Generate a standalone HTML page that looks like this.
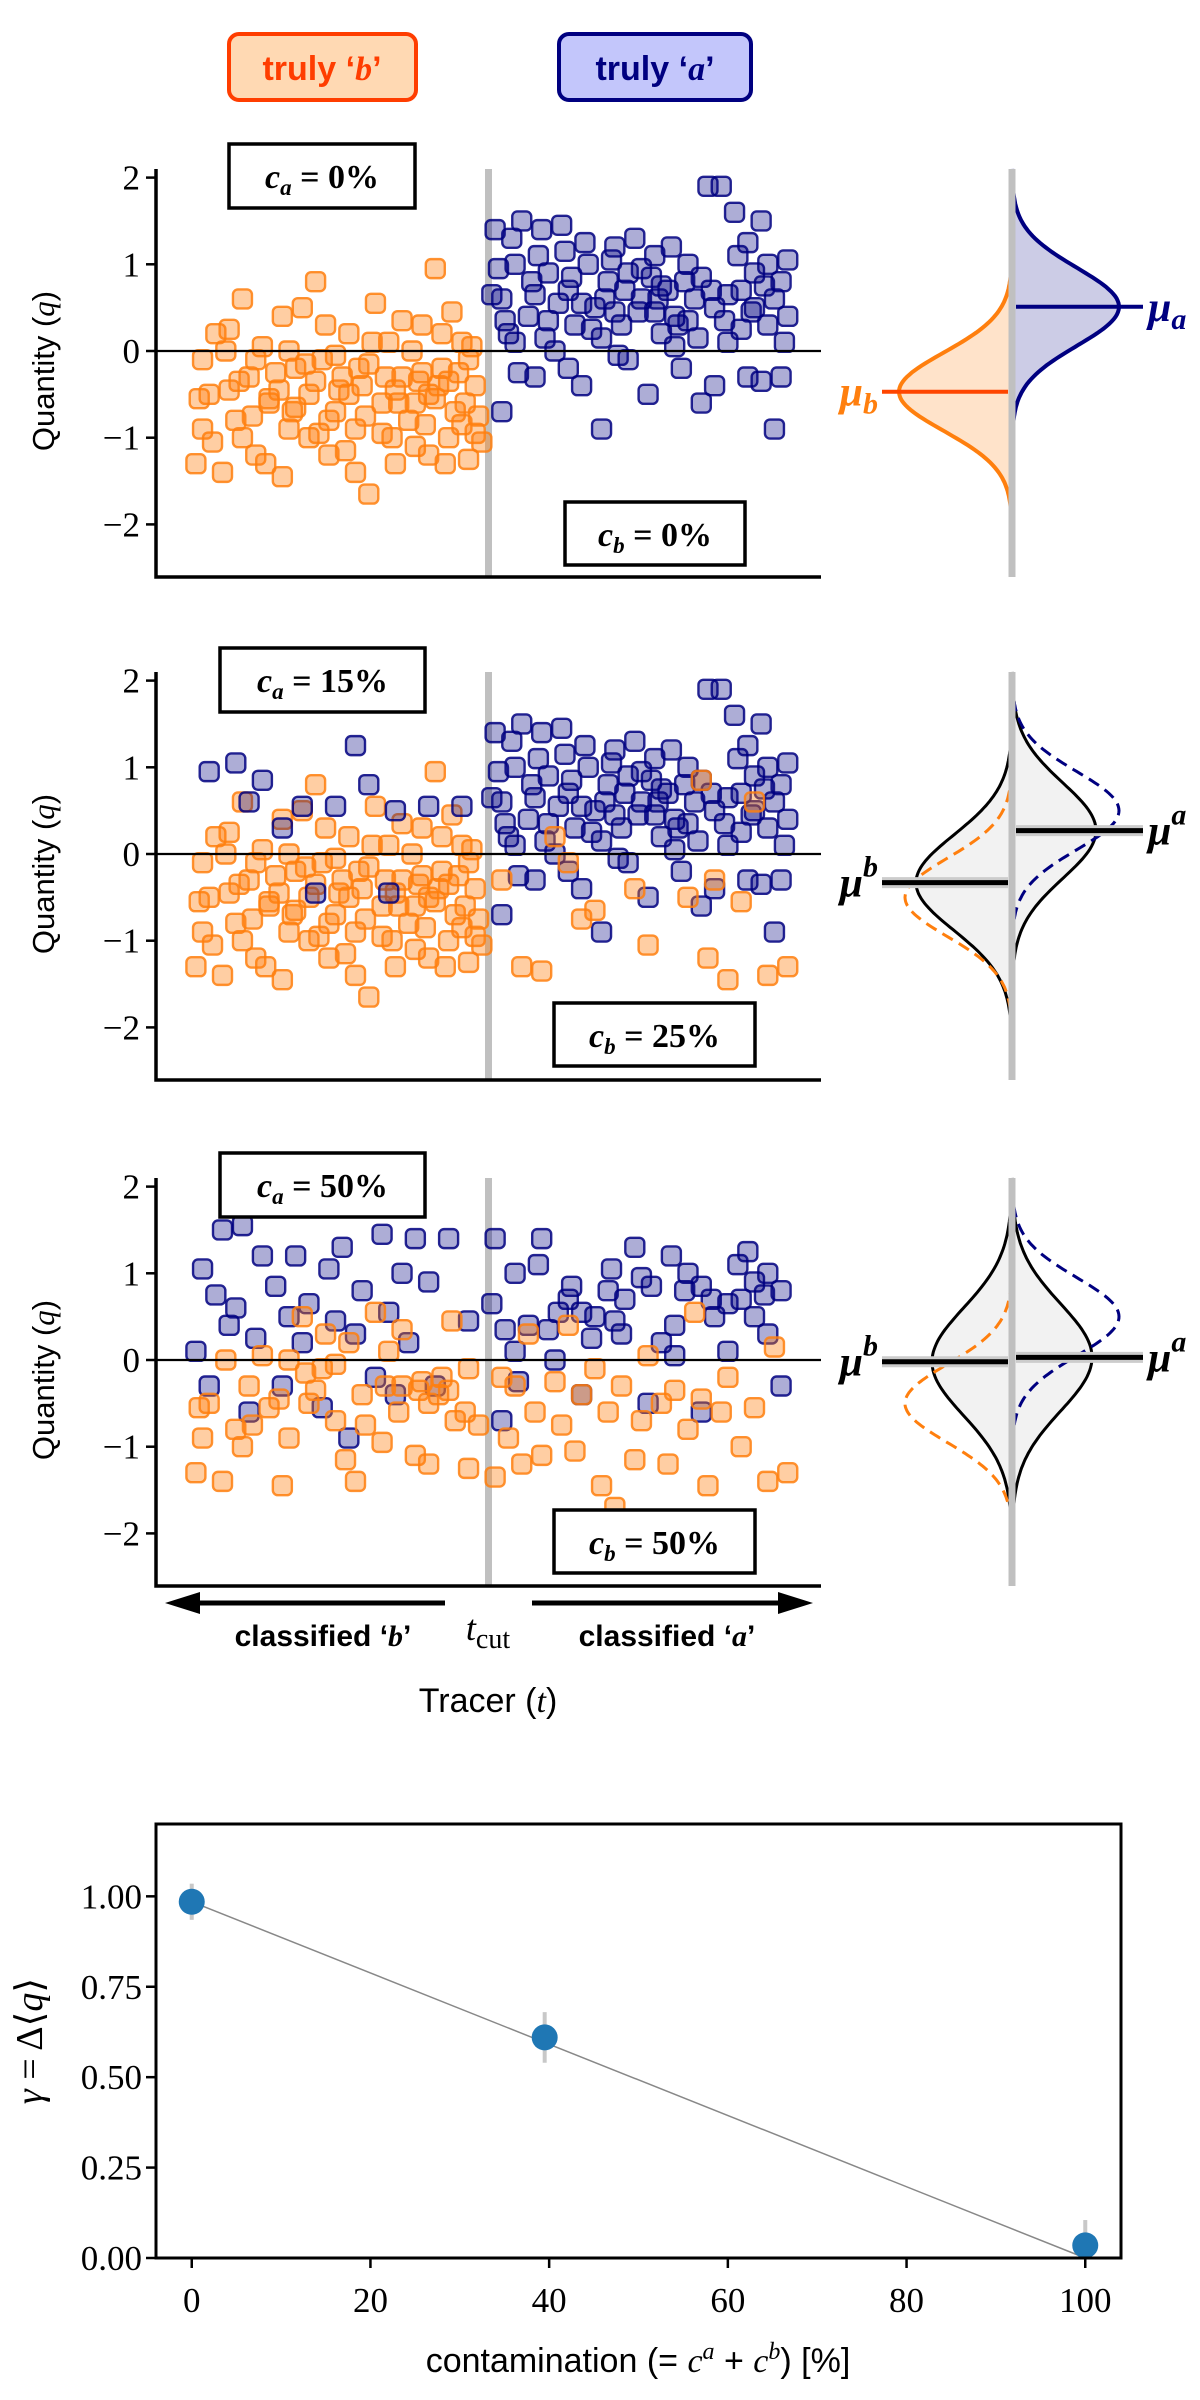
<!DOCTYPE html>
<html><head><meta charset="utf-8">
<style>
html,body{margin:0;padding:0;background:#fff;}
svg{display:block;}
.tk{font-family:"Liberation Serif",serif;fill:#000;}
.sans{font-family:"Liberation Sans",sans-serif;}
.mth{font-family:"Liberation Serif",serif;font-weight:bold;}
</style></head>
<body>
<svg id="fig" width="1200" height="2400" viewBox="0 0 1200 2400" xmlns="http://www.w3.org/2000/svg">
  <g>
    <rect x="229" y="34" width="187" height="66" rx="10" fill="#ffd9b3" stroke="#ff3d00" stroke-width="4"/>
    <text x="322" y="80" text-anchor="middle" class="sans" font-weight="bold" font-size="34" fill="#ff3d00">truly ‘<tspan font-family="Liberation Serif" font-style="italic">b</tspan>’</text>
  </g>
  <g>
    <rect x="559" y="34" width="192" height="66" rx="10" fill="#c3c6fb" stroke="#000080" stroke-width="4"/>
    <text x="655" y="80" text-anchor="middle" class="sans" font-weight="bold" font-size="34" fill="#000080">truly ‘<tspan font-family="Liberation Serif" font-style="italic">a</tspan>’</text>
  </g>
  <g id="panels"></g>
  <g id="bottom"></g>
</svg>
<script>
// ---- scatter data (t in axis fraction 0..1, q quantity) ----
const orangeT=[0.06,0.07,0.08,0.09,0.10,0.11,0.12,0.13,0.14,0.15,0.16,0.17,0.19,0.19,0.20,0.21,0.22,0.23,0.23,0.24,0.25,0.26,0.27,0.28,0.29,0.30,0.31,0.32,0.33,0.34,0.35,0.36,0.37,0.38,0.39,0.40,0.41,0.42,0.43,0.44,0.45,0.46,0.47,0.48,0.07,0.11,0.13,0.15,0.17,0.18,0.20,0.21,0.24,0.26,0.27,0.29,0.30,0.32,0.34,0.36,0.37,0.39,0.41,0.43,0.44,0.46,0.47,0.48,0.40,0.42,
0.065,0.085,0.105,0.125,0.145,0.165,0.185,0.205,0.225,0.245,0.255,0.275,0.285,0.305,0.315,0.325,0.345,0.355,0.365,0.385,0.395,0.405,0.425,0.435,0.445,0.455,0.465,0.475,0.485,0.49];
const orangeQ=[-1.3,-0.1,-0.5,0.2,-1.4,0.25,-0.8,0.6,-0.3,-1.2,0.05,-0.6,-1.45,0.4,-0.9,-0.2,0.5,-1.0,-0.5,0.8,-0.1,-1.2,-0.7,-0.3,0.2,-0.9,-0.4,-1.65,0.55,-0.6,0.1,-1.3,-0.3,-0.8,-1.1,0.3,-0.5,0.95,-0.2,-1.0,-0.7,0.1,-1.25,-0.4,-0.9,-0.45,-1.0,-0.1,-0.55,-0.25,0.0,-0.65,-0.35,-0.8,-0.05,-0.5,-1.4,-0.15,-0.95,-0.45,0.35,-0.6,-1.2,0.2,-0.35,-0.85,-0.1,-0.95,-0.25,-0.55,
-0.55,-1.05,0.0,-0.35,-0.75,-1.3,-0.45,-0.7,-0.15,-0.95,0.3,-0.45,-1.15,-0.2,-0.75,0.1,-0.3,-1.0,-0.6,0.0,-0.35,-0.85,-0.4,-1.3,0.45,-0.25,-0.6,0.05,-0.75,-1.05];
const blueT=[0.51,0.52,0.52,0.53,0.54,0.55,0.56,0.57,0.58,0.59,0.60,0.61,0.62,0.63,0.64,0.65,0.66,0.67,0.68,0.69,0.70,0.71,0.72,0.73,0.74,0.75,0.76,0.77,0.78,0.79,0.80,0.81,0.82,0.83,0.84,0.85,0.86,0.87,0.88,0.89,0.90,0.91,0.92,0.93,0.94,0.95,0.54,0.57,0.59,0.62,0.64,0.67,0.69,0.71,0.73,0.76,0.78,0.80,0.82,0.84,0.86,0.88,0.90,0.91,0.92,0.93,0.94,0.95,0.89,0.75,
0.505,0.515,0.525,0.535,0.545,0.565,0.575,0.585,0.605,0.615,0.625,0.645,0.655,0.675,0.685,0.695,0.705,0.725,0.745,0.755,0.775,0.785,0.795,0.815,0.835,0.855,0.875,0.895,0.915,0.945];
const blueQ=[1.4,0.6,-0.7,0.2,1.0,1.5,0.4,-0.3,1.4,0.9,0.0,1.45,0.7,0.3,-0.4,1.0,0.5,-0.9,0.8,1.2,0.3,0.9,1.3,0.6,-0.5,1.1,0.2,0.7,0.4,-0.2,1.0,0.6,-0.6,1.9,0.5,1.9,0.1,1.6,0.7,-0.3,0.9,1.5,0.3,-0.9,0.8,0.4,0.1,0.65,0.35,-0.2,0.55,0.15,0.45,-0.1,0.95,0.75,0.05,0.35,0.85,-0.4,0.65,0.25,0.5,-0.35,1.0,0.6,-0.3,1.05,1.25,0.45,
0.65,0.95,0.35,1.3,-0.25,0.8,1.1,0.15,0.55,1.15,0.85,1.25,0.25,0.6,1.05,-0.05,0.7,0.45,0.85,0.6,1.2,0.3,0.8,0.15,0.7,0.35,1.1,0.45,0.75,0.1];
// panel 2 contaminants
const p2BlueT=[0.08,0.12,0.14,0.16,0.19,0.22,0.27,0.30,0.32,0.36,0.41,0.46,0.24,0.35];
const p2BlueQ=[0.95,1.05,0.6,0.85,0.3,0.55,0.55,1.25,0.8,0.5,0.55,0.55,-0.45,-0.45];
const p2OrangeT=[0.52,0.55,0.58,0.60,0.62,0.64,0.66,0.72,0.74,0.80,0.82,0.83,0.84,0.86,0.88,0.90,0.92,0.95];
const p2OrangeQ=[-0.3,-1.3,-1.35,0.2,-0.1,-0.75,-0.65,-0.4,-1.05,-0.5,0.85,-1.2,-0.3,-1.45,-0.55,0.6,-1.4,-1.3];
// panel 3 contaminants
const p3OrangeT=[0.51,0.52,0.53,0.54,0.55,0.56,0.57,0.58,0.60,0.61,0.62,0.63,0.64,0.66,0.67,0.68,0.69,0.70,0.72,0.73,0.74,0.76,0.77,0.78,0.80,0.81,0.82,0.83,0.85,0.86,0.88,0.90,0.92,0.93,0.95];
const p3OrangeQ=[-1.35,-0.2,-0.9,-0.3,-1.2,0.3,-0.6,-1.1,-0.25,-0.75,0.4,-1.05,-0.4,-0.1,-1.45,-0.6,-1.7,-0.3,-1.15,-0.7,0.05,-0.5,-1.2,-0.35,-0.8,0.55,-0.45,-1.45,-0.6,-0.2,-1.0,-0.55,-1.4,0.15,-1.3];
const p3BlueT=[0.06,0.07,0.08,0.09,0.10,0.11,0.12,0.13,0.14,0.15,0.16,0.18,0.19,0.20,0.21,0.22,0.23,0.25,0.26,0.27,0.28,0.29,0.30,0.31,0.33,0.34,0.35,0.36,0.37,0.38,0.39,0.41,0.42,0.44,0.47];
const p3BlueQ=[0.1,1.05,-0.3,0.75,1.5,0.4,0.6,1.55,-0.6,0.25,1.2,0.85,-0.3,0.5,1.2,0.2,0.65,-0.55,1.05,0.45,1.3,-0.9,0.3,0.8,-0.2,1.45,0.55,-0.4,1.0,0.2,1.4,0.9,-0.3,1.4,0.45];
// panel labels / distribution params
const caLabels=["0%","15%","50%"];
const cbLabels=["0%","25%","50%"];
const muB=[-0.47,-0.33,-0.02];
const muA=[0.51,0.27,0.03];
const sdB=[0.45,0.55,0.62];
const sdA=[0.45,0.55,0.62];
const yTicks=[2,1,0,-1,-2];
// bottom chart data
const contam=[0,39.5,100];
const gammaVals=[0.985,0.61,0.035];
const gammaErrLo=[0.05,0.07,0.03];
const gammaErrHi=[0.05,0.07,0.07];
const xTicksB=[0,20,40,60,80,100];
const yTicksB=[0,0.25,0.5,0.75,1.0];

const NS="http://www.w3.org/2000/svg";
function mk(tag,attrs,parent){const e=document.createElementNS(NS,tag);for(const k in attrs)e.setAttribute(k,attrs[k]);if(parent)parent.appendChild(e);return e;}

const panelsG=document.getElementById('panels');
const zeros=[351,854,1360];
const PX=86.7, AX0=156, AX1=821, DX=1012;
function panel(pi){
  const z=zeros[pi];
  const yq=q=>z-q*PX;
  const xt=t=>AX0+t*(AX1-AX0);
  const g=mk('g',{},panelsG);
  
  
  yTicks.forEach(v=>{
    const tk=mk('line',{x1:AX0-10,x2:AX0,y1:yq(v),y2:yq(v),stroke:'#000','stroke-width':2.5},g);
    
    
    const tl=mk('text',{x:AX0-16,y:yq(v)+12,'text-anchor':'end',class:'tk','font-size':35},g);
    tl.textContent=v<0?'−'+Math.abs(v):String(v);
    
    
  });
  const cut=mk('line',{x1:xt(0.5),x2:xt(0.5),y1:z-182,y2:z+226,stroke:'#c0c0c0','stroke-width':7},g);
  
  
  function pts(T,Q,cls,filter){
    for(let i=0;i<T.length;i++){
      if(filter&&!filter(i))continue;
      const s=19;
      const r=mk('rect',{x:xt(T[i])-s/2,y:yq(Q[i])-s/2,width:s,height:s,rx:5,
        fill:cls==='b'?'#ff7f0e':'#000080','fill-opacity':cls==='b'?0.38:0.32,
        stroke:cls==='b'?'#ff7f0e':'#000080','stroke-width':2.4,'stroke-opacity':0.85},g);
      
      
    }
  }
  if(pi===0){pts(orangeT,orangeQ,'b');pts(blueT,blueQ,'a');}
  else if(pi===1){pts(orangeT,orangeQ,'b');pts(blueT,blueQ,'a');pts(p2BlueT,p2BlueQ,'a');pts(p2OrangeT,p2OrangeQ,'b');}
  else{pts(p3BlueT,p3BlueQ,'a');pts(orangeT,orangeQ,'b',i=>i%2===0);pts(blueT,blueQ,'a',i=>i%2===0);pts(p3OrangeT,p3OrangeQ,'b');}
  const zl=mk('line',{x1:AX0,x2:AX1,y1:z,y2:z,stroke:'#000','stroke-width':2.2},g);
  
  
  const sp=mk('path',{d:`M${AX0},${z-182} V${z+226} H${AX1}`,fill:'none',stroke:'#000','stroke-width':3.5},g);
  
  
  const yl=mk('text',{x:0,y:0,transform:`translate(54,${z+20}) rotate(-90)`,'text-anchor':'middle',class:'sans','font-size':31},g);
  yl.innerHTML='Quantity (<tspan font-family="Liberation Serif" font-style="italic">q</tspan>)';
  
  
  const b1y=[144,648,1153][pi], b2y=[502,1003,1510][pi];
  const bx1=pi===0?[229,415]:[220,425], bx2=pi===0?[565,745]:[554,755];
  const cb1=mk('g',{},g);
  
  
  mk('rect',{x:bx1[0],y:b1y,width:bx1[1]-bx1[0],height:64,fill:'#fff',stroke:'#000','stroke-width':3.5},cb1);
  const t1=mk('text',{x:(bx1[0]+bx1[1])/2,y:b1y+44,'text-anchor':'middle',class:'mth','font-size':34},cb1);
  t1.innerHTML='<tspan font-style="italic">c</tspan><tspan font-style="italic" font-size="23" dy="7">a</tspan><tspan dy="-7"> = '+caLabels[pi]+'</tspan>';
  const cb2=mk('g',{},g);
  
  
  mk('rect',{x:bx2[0],y:b2y,width:bx2[1]-bx2[0],height:63,fill:'#fff',stroke:'#000','stroke-width':3.5},cb2);
  const t2=mk('text',{x:(bx2[0]+bx2[1])/2,y:b2y+44,'text-anchor':'middle',class:'mth','font-size':34},cb2);
  t2.innerHTML='<tspan font-style="italic">c</tspan><tspan font-style="italic" font-size="23" dy="7">b</tspan><tspan dy="-7"> = '+cbLabels[pi]+'</tspan>';

  const dg=mk('g',{},panelsG);
  
  
  function curve(mu,sd,amp,side,qmin,qmax){
    let d='';
    for(let k=0;k<=120;k++){
      const q=qmax-(qmax-qmin)*k/120;
      const x=DX+side*amp*Math.exp(-((q-mu)*(q-mu))/(2*sd*sd));
      d+=(k?'L':'M')+x.toFixed(1)+','+yq(q).toFixed(1);
    }
    return d;
  }
  function addCurve(mu,sd,amp,side,qmin,qmax,style,name){
    const d=curve(mu,sd,amp,side,qmin,qmax);
    if(style.fill){const f=mk('path',{d:d+`L${DX},${yq(qmin)}L${DX},${yq(qmax)}Z`,fill:style.fill,stroke:'none'},dg);
      
      }
    const p=mk('path',{d:d,fill:'none',stroke:style.stroke,'stroke-width':style.w,'stroke-dasharray':style.dash||'none'},dg);
    
    
  }
  if(pi===0){
    addCurve(muB[0],sdB[0],113,-1,-2.0,1.05,{fill:'rgba(255,127,14,0.22)',stroke:'#ff7f0e',w:4},'dist-truly-b');
    addCurve(muA[0],sdA[0],107,1,-1.1,2.1,{fill:'rgba(0,0,128,0.2)',stroke:'#000080',w:4},'dist-truly-a');
  } else {
    const amp=pi===1?[96,84]:[80,80];
    const sol=pi===1?[[-2.0,1.3],[-1.5,2.1]]:[[-2.0,1.75],[-2.0,2.1]];
    addCurve(muB[pi],sdB[pi],amp[0],-1,sol[0][0],sol[0][1],{fill:'#f2f2f2',stroke:'#000',w:3},'dist-classified-b');
    addCurve(muA[pi],sdA[pi],amp[1],1,sol[1][0],sol[1][1],{fill:'#f2f2f2',stroke:'#000',w:3},'dist-classified-a');
    const dr=pi===1?[[-1.95,0.95],[-1.0,2.0]]:[[-1.65,0.9],[-0.85,2.0]];
    addCurve(-0.5,0.45,107,-1,dr[0][0],dr[0][1],{stroke:'#ff7f0e',w:3,dash:'12,7'},'dist-truly-b-dashed');
    addCurve(0.5,0.45,107,1,dr[1][0],dr[1][1],{stroke:'#000080',w:3,dash:'12,7'},'dist-truly-a-dashed');
  }
  const gl=mk('line',{x1:DX,x2:DX,y1:z-182,y2:z+226,stroke:'#c0c0c0','stroke-width':7},dg);
  
  
  const cB=pi===0?'#ff4500':'#000', cA=pi===0?'#000080':'#000', lw=pi===0?4:5;
  if(pi>0){mk('line',{x1:882,x2:DX-4,y1:yq(muB[pi]),y2:yq(muB[pi]),stroke:'#ccc','stroke-width':11},dg);
           mk('line',{x1:DX+4,x2:1143,y1:yq(muA[pi]),y2:yq(muA[pi]),stroke:'#ccc','stroke-width':11},dg);}
  const mb=mk('line',{x1:882,x2:DX-4,y1:yq(muB[pi]),y2:yq(muB[pi]),stroke:cB,'stroke-width':lw},dg);
  
  
  const ma=mk('line',{x1:DX+4,x2:1143,y1:yq(muA[pi]),y2:yq(muA[pi]),stroke:cA,'stroke-width':lw},dg);
  
  
  const lb=mk('text',{x:878,y:yq(muB[pi])+14,'text-anchor':'end',class:'mth','font-size':42,'font-style':'italic',fill:pi===0?'#ff7f0e':'#000'},dg);
  lb.innerHTML=pi===0?'μ<tspan font-size="30" dy="8">b</tspan>':'μ<tspan font-size="30" dy="-20">b</tspan>';
  
  
  const la=mk('text',{x:1148,y:yq(muA[pi])+14,'text-anchor':'start',class:'mth','font-size':42,'font-style':'italic',fill:pi===0?'#000080':'#000'},dg);
  la.innerHTML=pi===0?'μ<tspan font-size="30" dy="8">a</tspan>':'μ<tspan font-size="30" dy="-20">a</tspan>';
  
  
}
[0,1,2].forEach(panel);

const ag=mk('g',{},panelsG);


mk('line',{x1:190,x2:445,y1:1603,y2:1603,stroke:'#000','stroke-width':5},ag);
mk('polygon',{points:'165,1603 200,1592 200,1614',fill:'#000'},ag);
mk('line',{x1:532,x2:790,y1:1603,y2:1603,stroke:'#000','stroke-width':5},ag);
mk('polygon',{points:'813,1603 778,1592 778,1614',fill:'#000'},ag);
const cbt=mk('text',{x:323,y:1646,'text-anchor':'middle',class:'sans','font-weight':'bold','font-size':30},ag);
cbt.innerHTML='classified ‘<tspan font-family="Liberation Serif" font-style="italic">b</tspan>’';


const cat=mk('text',{x:667,y:1646,'text-anchor':'middle',class:'sans','font-weight':'bold','font-size':30},ag);
cat.innerHTML='classified ‘<tspan font-family="Liberation Serif" font-style="italic">a</tspan>’';


const tc=mk('text',{x:488,y:1640,'text-anchor':'middle',class:'tk','font-size':36},ag);
tc.innerHTML='<tspan font-style="italic">t</tspan><tspan font-size="28" dy="8">cut</tspan>';


const tr=mk('text',{x:488,y:1712,'text-anchor':'middle',class:'sans','font-size':34},ag);
tr.innerHTML='Tracer (<tspan font-family="Liberation Serif" font-style="italic">t</tspan>)';



const bg=document.getElementById('bottom');

const BX0=156,BX1=1121,BY0=1824,BY1=2258;
const bxs=v=>BX0+(v+4)/108*(BX1-BX0);
const bys=v=>BY1-v/1.2*(BY1-BY0);
xTicksB.forEach(v=>{
  const t=mk('line',{x1:bxs(v),x2:bxs(v),y1:BY1,y2:BY1+10,stroke:'#000','stroke-width':2.5},bg);
  
  
  const l=mk('text',{x:bxs(v),y:BY1+54,'text-anchor':'middle',class:'tk','font-size':35},bg);
  l.textContent=String(v);
  
  
});
yTicksB.forEach(v=>{
  const t=mk('line',{x1:BX0-10,x2:BX0,y1:bys(v),y2:bys(v),stroke:'#000','stroke-width':2.5},bg);
  
  
  const l=mk('text',{x:BX0-14,y:bys(v)+12,'text-anchor':'end',class:'tk','font-size':35},bg);
  l.textContent=v.toFixed(2);
  
  
});
const fit=mk('line',{x1:bxs(contam[0]),y1:bys(gammaVals[0]),x2:bxs(contam[2]),y2:bys(0),stroke:'#888','stroke-width':1.5},bg);


for(let i=0;i<contam.length;i++){
  const e=mk('line',{x1:bxs(contam[i]),x2:bxs(contam[i]),y1:bys(gammaVals[i]+gammaErrHi[i]),y2:bys(gammaVals[i]-gammaErrLo[i]),stroke:'#c8c8c8','stroke-width':4},bg);
  
  
  const c=mk('circle',{cx:bxs(contam[i]),cy:bys(gammaVals[i]),r:13,fill:'#1f77b4'},bg);
  
  
}
const fr=mk('rect',{x:BX0,y:BY0,width:BX1-BX0,height:BY1-BY0,fill:'none',stroke:'#000','stroke-width':3},bg);


const xl=mk('text',{x:638,y:2372,'text-anchor':'middle',class:'sans','font-size':34},bg);
xl.innerHTML='contamination (= <tspan font-family="Liberation Serif" font-style="italic">c</tspan><tspan font-family="Liberation Serif" font-style="italic" font-size="24" dy="-13">a</tspan><tspan dy="13"> + </tspan><tspan font-family="Liberation Serif" font-style="italic">c</tspan><tspan font-family="Liberation Serif" font-style="italic" font-size="24" dy="-13">b</tspan><tspan dy="13">) [%]</tspan>';


const yl2=mk('text',{x:0,y:0,transform:'translate(42,2041) rotate(-90)','text-anchor':'middle',class:'tk','font-size':38},bg);
yl2.innerHTML='<tspan font-style="italic">γ</tspan> = Δ⟨<tspan font-style="italic">q</tspan>⟩';


</script>
</body></html>
